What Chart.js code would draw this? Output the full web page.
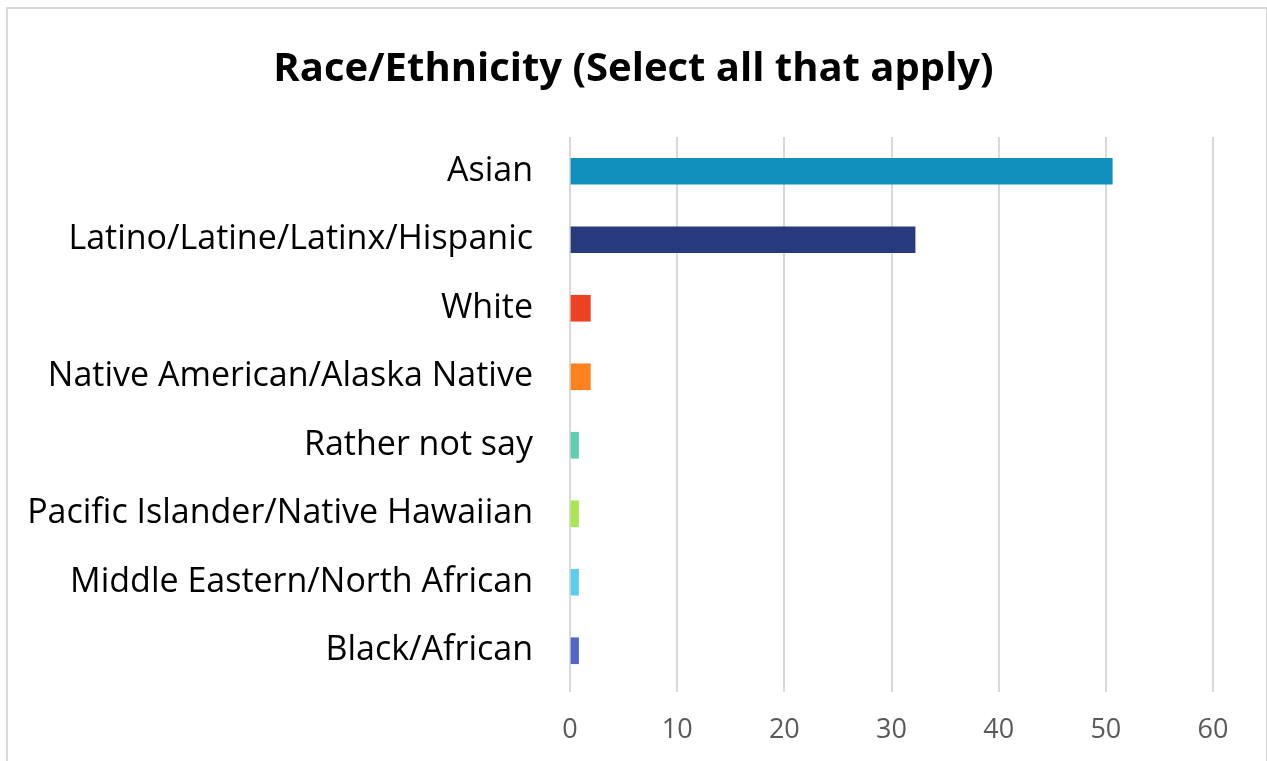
<!DOCTYPE html>
<html>
<head>
<meta charset="utf-8">
<script src="https://cdn.jsdelivr.net/npm/chart.js@4/dist/chart.umd.min.js"></script>
<style>
  body { margin: 0; background: #fff; }
  #frame { position: absolute; left: 6px; top: 7px; width: 1258px; height: 760px; border: 2px solid #d9d9d9; border-bottom: none; }
  #wrap { position: absolute; left: 0; top: 0; width: 1267px; height: 761px; }
</style>
</head>
<body>
<div id="frame"></div>
<div id="wrap"><canvas id="chartCanvas" width="1267" height="761"></canvas></div>
<script>
// -------- DATA --------
const categories = [
    'Asian',
    'Latino/Latine/Latinx/Hispanic',
    'White',
    'Native American/Alaska Native',
    'Rather not say',
    'Pacific Islander/Native Hawaiian',
    'Middle Eastern/North African',
    'Black/African'
];
const values = [50.6, 32.2, 1.9, 1.9, 0.8, 0.8, 0.8, 0.8];
const barColors = ['#1190be', '#283a7e', '#ee4023', '#fc8220', '#5ecfb0', '#a8e84e', '#5ccdf2', '#5066c6'];
const xTicks = [0, 10, 20, 30, 40, 50, 60];
const titleText = 'Race/Ethnicity (Select all that apply)';

const FONT = "'Open Sans', 'Noto Sans', sans-serif";

// title centred on the whole box, not on the chart area
const centerTitle = {
    id: 'centerTitle',
    afterDraw(chart) {
        const c = chart.ctx;
        c.save();
        c.font = 'bold 40px ' + FONT;
        c.fillStyle = '#000';
        c.textAlign = 'center';
        c.textBaseline = 'middle';
        c.fillText(titleText, chart.width / 2, 70);
        c.restore();
    }
};

const ctx = document.getElementById('chartCanvas').getContext('2d');
new Chart(ctx, {
    type: 'bar',
    data: {
        labels: categories,
        datasets: [{
            data: values,
            backgroundColor: barColors,
            borderWidth: 0,
            barThickness: 26
        }]
    },
    options: {
        indexAxis: 'y',
        responsive: false,
        animation: false,
        layout: { padding: { left: 0, right: 54, top: 137, bottom: 0 } },
        plugins: {
            legend: { display: false },
            tooltip: { enabled: false },
            title: { display: false }
        },
        scales: {
            x: {
                min: 0,
                max: 60,
                afterBuildTicks: s => { s.ticks = xTicks.map(v => ({ value: v })); },
                afterFit: s => { s.height = 76; },
                grid: { color: '#d9d9d9', lineWidth: 2, tickLength: 7, tickColor: '#d9d9d9' },
                border: { display: false },
                ticks: { color: '#595959', padding: 22, font: { family: FONT, size: 27 } }
            },
            y: {
                afterFit: s => { s.width = 570; },
                grid: { display: false, drawTicks: false },
                border: { display: false },
                ticks: { color: '#000', padding: 37, font: { family: FONT, size: 34 } }
            }
        }
    },
    plugins: [centerTitle]
});
</script>
</body>
</html>
